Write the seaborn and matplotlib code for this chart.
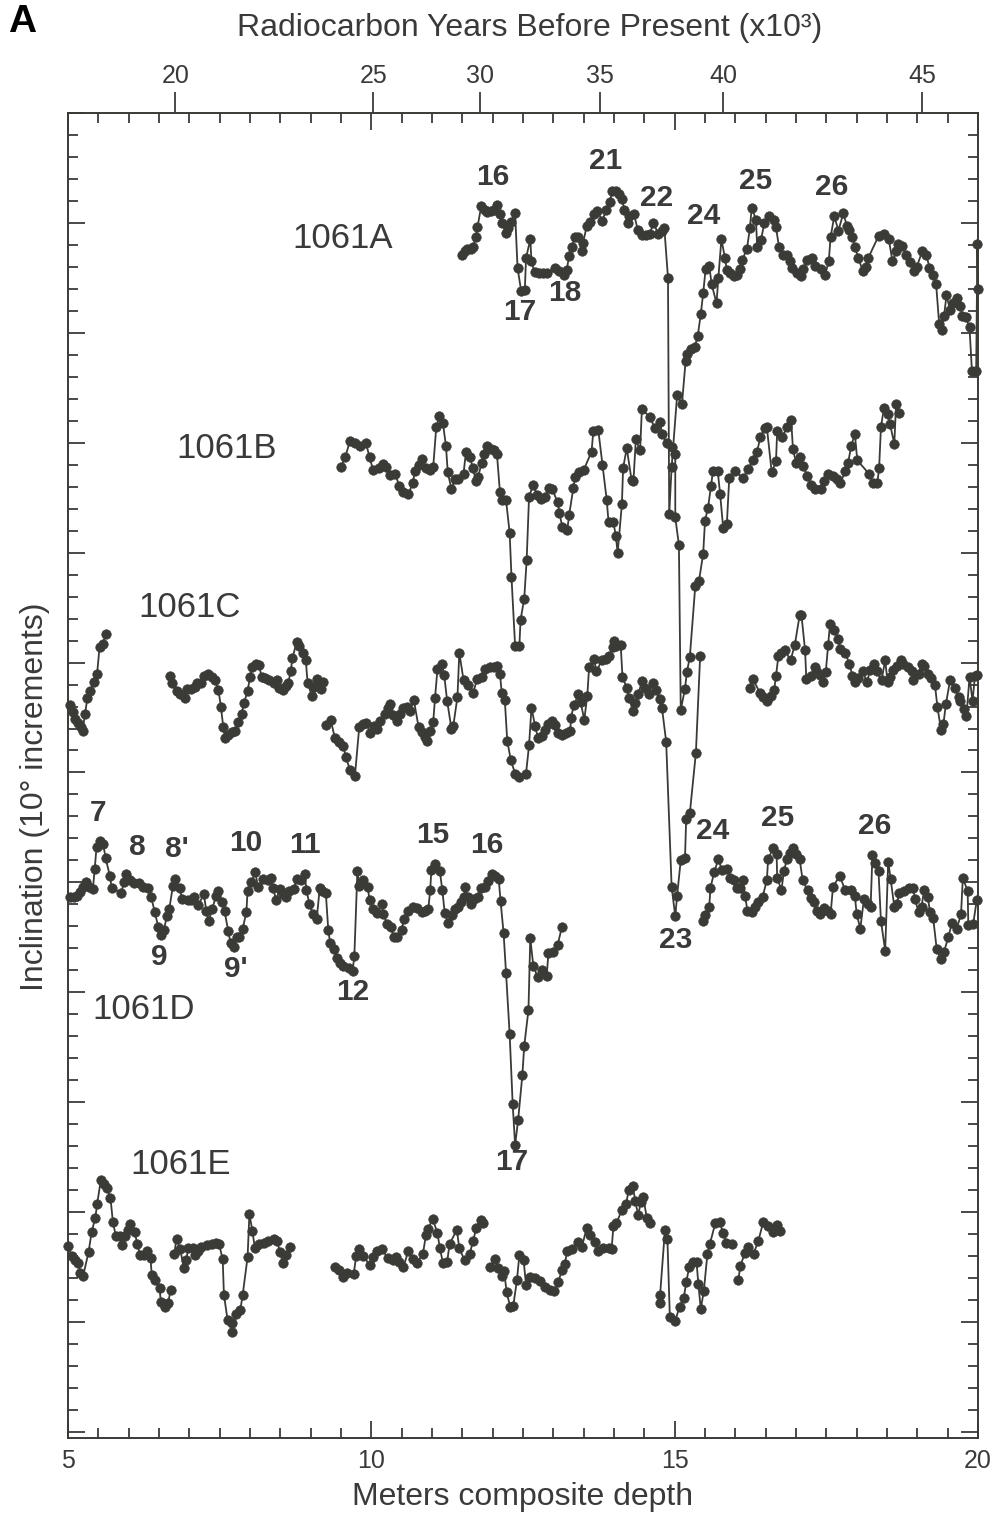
import numpy as np
import pandas as pd
import matplotlib
matplotlib.use("Agg")
import matplotlib.pyplot as plt
import seaborn as sns
from matplotlib.ticker import MultipleLocator, FixedLocator, NullLocator

sns.set_theme(style="white")
plt.rcParams["font.family"] = ["Liberation Sans", "DejaVu Sans"]

INK = "#3a3b36"
TXT = "#3a3a3a"
GAP = (None, None)

# ---------------- data (depth in mcd, inclination relative to each core's baseline, degrees) ----
core_A = [(11.49,-2.9),(11.54,-2.6),(11.58,-2.4),(11.64,-2.4),(11.68,-2.2),(11.72,-1.3),(11.75,-0.4),
          (11.81,1.5),(11.87,1.2),(11.91,1.0),(11.97,1.1),(12.03,1.2),(12.07,1.6),(12.12,0.8),(12.16,0.0),
          (12.22,-0.9),(12.26,-0.5),(12.31,0.1),(12.37,0.9),(12.41,-4.1),(12.47,-6.2),(12.53,-6.1),
          (12.55,-3.2),(12.62,-1.5),(12.64,-3.5),(12.69,-4.5),(12.76,-4.6),(12.83,-4.6),(12.89,-4.6),
          (13.02,-4.1),(13.10,-4.4),(13.18,-4.7),(13.22,-4.3),(13.26,-3.0),(13.31,-2.2),(13.35,-1.3),
          (13.41,-1.3),(13.47,-2.6),(13.49,-1.8),(13.55,-0.3),(13.61,0.1),(13.67,0.8),(13.72,1.1),
          (13.81,0.2),(13.87,1.2),(13.93,1.9),(13.97,2.9),(14.04,2.9),(14.08,2.6),(14.13,2.2),(14.17,1.2),
          (14.23,0.0),(14.25,0.6),(14.33,0.8),(14.39,-0.6),(14.46,-1.1),(14.53,-1.1),(14.59,-1.0),
          (14.65,0.0),(14.73,-1.0),(14.79,-0.7),(14.83,-0.5),(14.89,-5.0),(14.91,-26.5),(14.95,-22.2),
          (15.04,-15.7),(15.12,-16.5),(15.18,-12.6),(15.20,-11.9),(15.27,-11.5),(15.33,-11.3),(15.38,-10.3),
          (15.43,-8.3),(15.47,-6.4),(15.51,-4.2),(15.57,-3.9),(15.61,-5.6),(15.69,-7.3),(15.72,-5.0),
          (15.77,-1.5),(15.83,-3.2),(15.86,-4.3),(15.91,-4.6),(15.97,-4.8),(16.02,-4.7),(16.07,-4.2),
          (16.11,-3.4),(16.19,-2.4),(16.24,-0.5),(16.27,1.4),(16.34,0.3),(16.36,-2.2),(16.42,-1.6),
          (16.48,0.0),(16.56,0.6),(16.63,0.3),(16.67,-0.4),(16.72,-2.2),(16.78,-2.9),(16.85,-2.9),
          (16.90,-3.5),(16.94,-4.1),(17.01,-4.6),(17.08,-4.8),(17.12,-4.2),(17.18,-3.4),(17.27,-3.2),
          (17.32,-3.9),(17.41,-4.2),(17.48,-4.7),(17.54,-3.5),(17.57,-1.3),(17.63,0.6),(17.70,-0.7),
          (17.78,0.9),(17.84,-0.3),(17.87,-0.6),(17.93,-1.3),(17.97,-2.2),(18.03,-3.2),(18.10,-4.4),
          (18.15,-4.0),(18.19,-3.2),(18.36,-1.2),(18.45,-1.0),(18.53,-1.5),(18.59,-3.5),(18.65,-2.6),
          (18.68,-1.9),(18.75,-2.1),(18.82,-2.9),(18.88,-3.6),(18.94,-4.4),(18.99,-4.0),(19.08,-2.6),
          (19.15,-2.9),(19.20,-4.1),(19.25,-4.7),(19.31,-5.6),(19.36,-9.2),(19.40,-9.7),(19.44,-8.5),
          (19.48,-6.6),(19.54,-7.9),(19.59,-7.3),(19.65,-6.8),(19.71,-7.6),(19.74,-8.5),(19.80,-8.6),
          (19.86,-9.5),(19.90,-13.5),(19.97,-13.5),(19.99,-1.9),(20.00,-6.0)]

core_B = [(9.50,-2.2),(9.57,-1.3),(9.65,0.2),(9.73,0.0),(9.81,-0.3),(9.91,0.0),(9.97,-1.3),(10.03,-2.5),
          (10.12,-2.3),(10.19,-1.9),(10.25,-2.2),(10.31,-2.9),(10.39,-2.8),(10.46,-3.9),(10.52,-4.5),
          (10.61,-4.7),(10.68,-3.7),(10.72,-2.6),(10.79,-2.0),(10.83,-1.5),(10.90,-2.3),(10.97,-2.5),
          (11.02,-2.2),(11.07,1.4),(11.12,2.4),(11.18,1.8),(11.23,-0.3),(11.26,-2.7),(11.32,-4.2),
          (11.38,-3.3),(11.43,-3.3),(11.52,-2.8),(11.56,-0.8),(11.63,-1.3),(11.67,-2.3),(11.73,-3.5),
          (11.76,-3.1),(11.82,-1.8),(11.86,-1.0),(11.90,-0.3),(11.97,-0.6),(12.02,-0.7),(12.07,-1.0),
          (12.12,-4.5),(12.15,-5.2),(12.22,-5.2),(12.28,-8.2),(12.31,-12.2),(12.37,-18.5),(12.44,-18.5),
          (12.46,-16.1),(12.52,-14.2),(12.56,-10.7),(12.60,-4.9),(12.67,-3.8),(12.73,-4.8),(12.79,-5.1),
          (12.86,-4.9),(12.93,-4.1),(12.98,-4.2),(13.07,-5.4),(13.10,-6.4),(13.15,-7.7),(13.23,-7.9),
          (13.26,-6.6),(13.33,-4.1),(13.36,-3.1),(13.43,-2.7),(13.50,-2.5),(13.63,-0.8),(13.66,1.1),
          (13.74,1.2),(13.81,-2.0),(13.88,-5.2),(13.91,-7.2),(13.99,-7.2),(14.03,-8.5),(14.06,-10.0),
          (14.13,-5.6),(14.15,-2.3),(14.21,-0.5),(14.29,-3.4),(14.32,-3.5),(14.36,0.3),(14.43,-0.7),
          (14.46,3.1),(14.59,2.3),(14.68,1.3),(14.76,1.9),(14.79,0.8),(14.87,0.0),(14.95,-0.4),
          (15.01,-1.0),(15.01,-6.8),(15.07,-9.3),(15.10,-24.3),(15.17,-22.4),(15.20,-20.9),(15.25,-19.5),
          (15.34,-13.0),(15.40,-12.6),(15.47,-10.1),(15.50,-7.1),(15.55,-5.9),(15.60,-3.9),(15.63,-2.6),
          (15.71,-2.6),(15.75,-4.7),(15.80,-7.8),(15.86,-7.4),(15.90,-3.2),(16.00,-2.6),(16.13,-3.2),
          (16.21,-2.4),(16.29,-1.6),(16.36,-0.8),(16.41,0.5),(16.49,1.3),(16.52,1.4),(16.60,-2.7),
          (16.67,-1.7),(16.69,1.1),(16.77,0.5),(16.85,1.4),(16.92,2.1),(16.95,-0.6),(17.00,-1.8),
          (17.07,-1.3),(17.12,-2.1),(17.18,-3.0),(17.25,-3.8),(17.31,-4.2),(17.41,-4.2),(17.46,-3.5),
          (17.53,-2.8),(17.61,-3.0),(17.68,-3.3),(17.73,-3.7),(17.81,-2.6),(17.86,-1.8),(17.91,-0.3),
          (17.97,0.8),(18.01,-1.6),(18.20,-2.8),(18.27,-3.7),(18.34,-3.7),(18.37,-2.3),(18.40,1.4),
          (18.45,3.2),(18.52,2.6),(18.55,1.7),(18.62,-0.1),(18.65,3.5),(18.70,2.7)]

core_C = [(5.03,-3.9),(5.08,-4.5),(5.12,-5.1),(5.17,-5.5),(5.21,-5.9),(5.24,-6.2),(5.28,-4.7),(5.32,-3.2),
          (5.37,-2.6),(5.43,-1.8),(5.48,-1.0),(5.52,1.4),(5.57,1.7),(5.63,2.6),
          GAP,
          (6.68,-1.2),(6.71,-1.9),(6.79,-2.6),(6.85,-2.9),(6.93,-3.2),(6.96,-2.4),(7.02,-2.4),(7.09,-2.2),
          (7.13,-1.9),(7.20,-1.9),(7.24,-1.2),(7.31,-1.0),(7.37,-1.3),(7.42,-1.6),(7.48,-2.5),(7.52,-4.0),
          (7.56,-5.9),(7.59,-6.9),(7.64,-6.6),(7.70,-6.3),(7.75,-6.2),(7.81,-5.4),(7.86,-4.7),(7.90,-3.7),
          (7.96,-2.6),(8.00,-1.3),(8.04,-0.4),(8.10,-0.1),(8.15,-0.2),(8.19,-1.3),(8.25,-1.4),(8.32,-1.6),
          (8.39,-1.9),(8.45,-1.6),(8.48,-2.3),(8.54,-2.5),(8.59,-2.1),(8.63,-1.9),(8.67,-0.8),(8.70,0.4),
          (8.77,1.9),(8.81,1.5),(8.87,0.9),(8.92,0.2),(8.95,-1.9),(9.02,-3.0),(9.06,-2.2),(9.10,-1.5),
          (9.17,-2.4),(9.21,-1.8),
          GAP,
          (9.26,-5.7),(9.33,-5.2),(9.40,-6.9),(9.47,-7.2),(9.54,-7.6),(9.58,-8.6),(9.65,-9.8),(9.73,-10.3),
          (9.80,-5.9),(9.87,-5.6),(9.92,-5.5),(9.98,-6.4),(10.04,-5.8),(10.10,-6.0),(10.15,-5.3),(10.23,-4.7),
          (10.28,-4.1),(10.31,-3.8),(10.36,-4.8),(10.43,-5.3),(10.48,-4.7),(10.53,-4.1),(10.59,-4.0),
          (10.64,-4.4),(10.70,-3.4),(10.78,-5.9),(10.83,-6.3),(10.89,-6.8),(10.92,-7.1),(10.97,-6.2),
          (11.02,-5.4),(11.05,-3.2),(11.09,-0.6),(11.16,-0.1),(11.20,-1.1),(11.25,-3.5),(11.32,-6.0),
          (11.35,-5.8),(11.42,-3.1),(11.45,0.9),(11.52,-1.6),(11.60,-2.0),(11.68,-2.8),(11.74,-1.5),
          (11.82,-1.3),(11.87,-0.6),(11.96,-0.4),(12.02,-0.4),(12.07,-0.3),(12.12,-1.0),(12.15,-2.8),
          (12.20,-3.4),(12.24,-7.1),(12.30,-8.9),(12.37,-10.1),(12.44,-10.4),(12.55,-10.1),(12.60,-7.5),
          (12.64,-4.1),(12.70,-5.8),(12.75,-6.9),(12.81,-6.7),(12.86,-6.1),(12.92,-5.6),(12.97,-5.3),
          (13.03,-5.7),(13.08,-6.4),(13.14,-6.6),(13.21,-6.4),(13.28,-6.2),(13.29,-5.0),(13.34,-3.9),
          (13.41,-2.9),(13.45,-3.6),(13.51,-5.2),(13.56,-3.0),(13.59,-0.4),(13.67,0.3),(13.71,-0.8),
          (13.80,0.2),(13.87,0.3),(13.92,0.6),(13.98,1.4),(14.00,2.0),(14.04,1.5),(14.11,1.6),(14.14,-1.3),
          (14.21,-2.3),(14.25,-3.2),(14.31,-4.4),(14.35,-3.7),(14.40,-2.9),(14.46,-1.7),(14.51,-2.3),
          (14.57,-2.9),(14.64,-1.9),(14.69,-2.5),(14.75,-3.3),(14.79,-4.1),(14.86,-7.2),(14.95,-20.4),
          (15.01,-23.1),(15.04,-21.2),(15.10,-18.0),(15.17,-17.8),(15.19,-14.2),(15.25,-13.7),(15.35,-8.2),
          (15.42,0.6),
          GAP,
          (16.24,-2.3),(16.29,-1.5),(16.41,-2.8),(16.46,-3.1),(16.52,-3.5),(16.58,-3.0),(16.64,-2.5),
          (16.67,-1.2),(16.71,0.6),(16.76,0.9),(16.82,1.1),(16.91,0.2),(16.98,1.6),(17.06,4.3),(17.09,4.3),
          (17.15,1.1),(17.17,-1.5),(17.24,-1.2),(17.31,-0.4),(17.35,-0.9),(17.40,-1.1),(17.45,-1.8),
          (17.49,-0.9),(17.53,1.6),(17.56,3.5),(17.63,3.0),(17.70,2.1),(17.73,1.2),(17.81,0.9),(17.88,-0.1),
          (17.93,-1.2),(17.97,-1.8),(18.03,-1.4),(18.10,-0.8),(18.17,-1.8),(18.22,-0.7),(18.28,-0.1),
          (18.33,-0.8),(18.41,-1.6),(18.47,0.2),(18.51,-1.8),(18.55,-1.3),(18.60,-0.7),(18.66,-0.3),
          (18.73,0.2),(18.77,-0.1),(18.84,-0.4),(18.91,-0.8),(18.93,-1.6),(19.02,-1.0),(19.07,-0.1),
          (19.11,-0.3),(19.17,-1.0),(19.22,-1.4),(19.29,-2.0),(19.33,-4.0),(19.39,-6.1),(19.43,-5.6),
          (19.47,-3.8),(19.54,-1.6),(19.62,-2.3),(19.68,-3.1),(19.71,-3.5),(19.77,-4.2),(19.81,-4.9),
          (19.86,-1.3),(19.91,-3.5),(19.95,-1.2),(19.99,-1.1)]

core_D = [(5.04,-1.3),(5.10,-1.3),(5.15,-1.2),(5.20,-0.9),(5.24,-0.4),(5.30,0.0),(5.35,-0.4),(5.41,-0.6),
          (5.44,1.2),(5.47,3.2),(5.52,3.8),(5.58,3.5),(5.62,2.2),(5.69,0.6),(5.72,-0.5),(5.88,-1.0),
          (5.92,0.0),(5.96,0.8),(6.03,0.2),(6.09,-0.1),(6.17,-0.1),(6.23,-0.4),(6.32,-0.5),(6.37,-1.3),
          (6.43,-2.7),(6.49,-4.1),(6.53,-4.8),(6.58,-4.3),(6.63,-3.1),(6.67,-2.4),(6.73,-0.3),(6.77,0.3),
          (6.84,-0.5),(6.88,-1.5),(6.97,-1.6),(7.03,-1.6),(7.08,-1.3),(7.14,-2.1),(7.24,-1.1),(7.28,-2.6),
          (7.32,-3.5),(7.38,-2.4),(7.44,-1.2),(7.48,-0.8),(7.54,-1.8),(7.58,-2.6),(7.64,-4.4),(7.68,-5.5),
          (7.74,-5.9),(7.78,-5.0),(7.82,-5.0),(7.88,-4.2),(7.94,-2.7),(7.96,-0.8),(8.02,0.0),(8.09,0.9),
          (8.13,-0.4),(8.21,0.3),(8.30,0.2),(8.34,0.4),(8.38,-0.5),(8.43,-1.6),(8.49,-0.6),(8.55,-1.1),
          (8.59,-1.3),(8.64,-0.8),(8.72,-0.6),(8.77,0.3),(8.84,0.2),(8.90,0.8),(8.93,-0.7),(8.98,-2.0),
          (9.04,-2.9),(9.10,-3.3),(9.15,-0.5),(9.19,-0.8),(9.25,-1.0),(9.29,-4.3),(9.32,-5.5),(9.38,-6.1),
          (9.43,-6.9),(9.49,-7.3),(9.54,-7.6),(9.63,-7.8),(9.69,-8.1),(9.72,-6.7),(9.77,1.0),(9.80,-0.3),
          (9.87,0.2),(9.94,-0.4),(9.97,-1.6),(10.03,-2.4),(10.09,-2.8),(10.17,-2.0),(10.20,-2.9),
          (10.26,-3.8),(10.33,-4.1),(10.37,-5.0),(10.43,-5.0),(10.50,-4.3),(10.54,-3.3),(10.61,-2.6),
          (10.69,-2.2),(10.76,-2.3),(10.83,-2.7),(10.89,-2.6),(10.94,-2.4),(10.97,-0.7),(10.99,1.1),
          (11.05,1.7),(11.13,1.0),(11.17,-0.7),(11.21,-2.8),(11.27,-3.7),(11.33,-3.0),(11.38,-2.4),
          (11.43,-2.2),(11.47,-1.8),(11.53,-1.3),(11.55,-0.4),(11.59,-1.3),(11.65,-2.0),(11.70,-1.5),
          (11.76,-1.3),(11.80,-0.5),(11.87,-0.4),(11.93,0.1),(11.99,0.8),(12.04,0.6),(12.10,0.3),
          (12.13,-1.7),(12.18,-4.6),(12.22,-8.2),(12.28,-13.8),(12.33,-20.2),(12.37,-23.9),(12.42,-21.6),
          (12.49,-17.5),(12.52,-14.9),(12.59,-11.6),(12.62,-5.1),(12.67,-7.6),(12.74,-8.6),(12.81,-8.0),
          (12.89,-8.5),(12.92,-6.4),(13.00,-6.3),(13.07,-5.7),(13.14,-4.1),
          GAP,
          (15.47,-3.5),(15.50,-3.0),(15.57,-2.2),(15.59,-0.5),(15.65,0.9),(15.72,2.1),(15.78,1.1),
          (15.87,1.2),(15.91,0.4),(15.97,0.2),(16.02,-0.5),(16.07,-0.5),(16.12,0.2),(16.16,-1.2),
          (16.20,-2.6),(16.27,-2.7),(16.32,-2.2),(16.38,-1.8),(16.45,-1.3),(16.52,0.2),(16.54,2.1),
          (16.62,3.1),(16.68,2.6),(16.69,0.4),(16.76,-0.7),(16.80,1.0),(16.85,2.1),(16.90,2.7),(16.95,3.1),
          (17.00,2.6),(17.06,2.1),(17.11,0.2),(17.19,-0.7),(17.24,-1.4),(17.30,-1.8),(17.34,-2.6),
          (17.40,-2.9),(17.46,-2.3),(17.52,-2.6),(17.57,-2.9),(17.61,-0.4),(17.72,0.6),(17.81,-0.7),
          (17.90,-0.7),(17.97,-1.2),(18.00,-2.9),(18.06,-4.2),(18.12,-1.5),(18.18,-2.0),(18.23,-2.2),
          (18.26,2.5),(18.30,1.8),(18.36,1.0),(18.40,-3.5),(18.47,-6.2),(18.52,1.9),(18.56,0.3),
          (18.62,-2.2),(18.66,-2.0),(18.70,-1.0),(18.78,-0.8),(18.87,-0.5),(18.93,-0.5),(18.96,-1.5),
          (19.02,-2.7),(19.07,-2.2),(19.11,-0.7),(19.17,-1.3),(19.21,-2.7),(19.26,-3.2),(19.32,-6.1),
          (19.39,-7.0),(19.44,-6.3),(19.51,-5.0),(19.57,-3.7),(19.65,-4.2),(19.72,-2.9),(19.75,0.4),
          (19.83,-0.8),(19.84,-3.9),(19.92,-3.8),(19.98,-1.6)]

core_E = [(5.00,-3.1),(5.06,-4.0),(5.12,-4.4),(5.17,-4.6),(5.20,-5.5),(5.25,-5.8),(5.34,-3.6),(5.39,-1.8),
          (5.45,-0.5),(5.48,0.7),(5.54,2.9),(5.59,2.6),(5.64,2.2),(5.70,1.3),(5.74,-0.9),(5.79,-2.2),
          (5.86,-2.2),(5.89,-3.0),(5.94,-2.2),(5.99,-1.6),(6.03,-1.1),(6.10,-1.8),(6.14,-2.9),(6.19,-3.9),
          (6.25,-3.9),(6.31,-3.5),(6.36,-4.2),(6.38,-5.7),(6.43,-6.2),(6.51,-6.9),(6.53,-8.2),(6.60,-8.6),
          (6.65,-8.3),(6.69,-7.1),
          GAP,
          (6.75,-3.8),(6.79,-2.4),(6.85,-3.4),(6.91,-5.1),(6.95,-4.4),(6.98,-3.3),(7.06,-3.3),(7.09,-3.9),
          (7.15,-3.5),(7.20,-3.2),(7.29,-3.0),(7.37,-2.9),(7.44,-2.8),(7.49,-2.9),(7.55,-4.3),(7.57,-7.5),
          (7.63,-9.8),(7.70,-10.1),(7.71,-10.9),(7.77,-9.3),(7.84,-8.9),(7.88,-7.5),(7.96,-4.1),(7.99,-0.2),
          (8.04,-1.7),(8.08,-3.3),(8.15,-2.9),(8.23,-2.8),(8.30,-2.6),(8.39,-2.4),(8.45,-2.6),(8.49,-3.6),
          (8.54,-4.6),(8.59,-3.9),(8.66,-3.2),
          GAP,
          (9.40,-5.0),(9.46,-5.3),(9.54,-5.9),(9.60,-5.5),(9.71,-5.6),(9.75,-4.0),(9.80,-3.4),(9.87,-4.0),
          (9.97,-4.8),(10.02,-4.1),(10.09,-3.5),(10.17,-3.4),(10.28,-4.2),(10.35,-4.4),(10.41,-4.1),
          (10.46,-4.5),(10.53,-5.0),(10.61,-3.5),(10.69,-4.3),(10.76,-4.6),(10.85,-3.8),(10.90,-2.1),
          (10.94,-1.5),(11.01,-0.6),(11.09,-1.9),(11.13,-3.3),(11.18,-4.6),(11.25,-4.5),(11.29,-2.9),
          (11.41,-1.6),(11.45,-3.3),(11.54,-4.4),(11.62,-3.8),(11.68,-2.6),(11.73,-1.4),(11.80,-0.7),
          (11.84,-1.0),
          GAP,
          (11.95,-5.0),(12.04,-4.3),(12.09,-5.1),(12.15,-5.8),(12.19,-5.4),(12.23,-7.3),(12.29,-8.6),
          (12.34,-8.5),(12.40,-6.2),(12.44,-3.9),(12.51,-4.4),(12.55,-6.6),(12.62,-5.9),(12.70,-6.0),
          (12.78,-6.3),(12.86,-6.8),(12.95,-7.1),(13.01,-7.2),(13.08,-6.4),(13.14,-5.3),(13.19,-4.7),
          (13.23,-3.5),(13.30,-3.4),(13.40,-2.7),(13.47,-3.2),(13.55,-1.4),(13.60,-2.1),(13.69,-2.7),
          (13.74,-3.5),(13.82,-3.3),(13.91,-3.3),(13.96,-3.4),(13.99,-1.3),(14.04,-1.0),(14.13,0.2),
          (14.20,0.7),(14.24,2.0),(14.31,2.4),(14.35,1.0),(14.40,-0.3),(14.44,0.9),(14.48,1.4),(14.54,-0.5),
          (14.60,-1.0),
          GAP,
          (14.75,-8.3),(14.76,-7.5),(14.84,-1.6),(14.88,-2.4),(14.92,-9.5),(15.01,-9.9),(15.08,-8.6),
          (15.15,-7.8),(15.19,-6.4),(15.24,-5.0),(15.31,-4.5),(15.36,-4.5),(15.39,-6.5),(15.43,-8.8),
          (15.48,-7.2),(15.54,-3.8),(15.58,-2.9),(15.67,-1.0),(15.74,-0.9),(15.80,-1.9),(15.85,-2.8),
          (15.94,-2.9),
          GAP,
          (16.05,-6.2),(16.08,-4.9),(16.16,-3.7),(16.21,-3.2),(16.30,-3.8),(16.38,-2.6),(16.46,-0.9),
          (16.54,-1.3),(16.62,-1.8),(16.69,-1.2),(16.74,-1.7)]

core_names = ["1061A", "1061B", "1061C", "1061D", "1061E"]
core_offsets = [100, 80, 60, 40, 10]           # baseline (degrees) of each stacked record
core_points = [core_A, core_B, core_C, core_D, core_E]

core_label_text = ["1061A", "1061B", "1061C", "1061D", "1061E"]
core_label_pos = [(9.52, 98.6), (7.62, 79.5), (7.01, 65.0), (6.24, 28.4), (6.86, 14.3)]

event_labels = ["16", "21", "22", "17", "18", "24", "25", "26",
                "7", "8", "8'", "10", "11", "15", "16", "9", "9'", "12", "17", "23", "24", "25", "26"]
event_pos = [(12.00, 104.2), (13.87, 105.6), (14.71, 102.3), (12.45, 91.9), (13.18, 93.6),
             (15.47, 100.6), (16.33, 103.8), (17.59, 103.3),
             (5.49, 46.3), (6.14, 43.2), (6.80, 43.0), (7.93, 43.6), (8.91, 43.4), (11.02, 44.3),
             (11.91, 43.4), (6.51, 33.2), (7.76, 32.1), (9.70, 30.0), (12.31, 14.6), (15.01, 34.8),
             (15.62, 44.7), (16.70, 45.9), (18.29, 45.1)]

age_ticks = [20, 25, 30, 35, 40, 45]            # radiocarbon kyr BP
age_tick_depth = [6.77, 10.03, 11.79, 13.77, 15.80, 19.08]

# ---------------- build long table ----------------
rows = []
for name, off, pts in zip(core_names, core_offsets, core_points):
    seg = 0
    for d, inc in pts:
        if d is None:
            seg += 1
            continue
        rows.append({"core": name, "unit": f"{name}_{seg}", "depth": d, "value": off + inc})
df = pd.DataFrame(rows)

# ---------------- figure ----------------
fig = plt.figure(figsize=(9.94, 15.18), dpi=100)
ax = fig.add_axes([68 / 994, 1 - 1438 / 1518, (978 - 68) / 994, (1438 - 113) / 1518])

sns.lineplot(data=df, x="depth", y="value", units="unit", estimator=None, sort=False,
             color=INK, linewidth=1.3, marker="o", markersize=7.0,
             markeredgecolor=INK, markeredgewidth=0.3, legend=False, ax=ax, clip_on=False)

ax.set_xlim(5, 20)
ax.set_ylim(-10.55, 110)

ax2 = ax.twiny()
ax2.set_xlim(5, 20)
ax2.xaxis.set_major_locator(FixedLocator(age_tick_depth))
ax2.set_xticklabels([str(a) for a in age_ticks])
ax2.xaxis.set_minor_locator(NullLocator())
ax2.tick_params(axis="x", direction="out", length=15, width=1.3, labelsize=18, pad=3,
                colors=TXT)
for s in ax2.spines.values():
    s.set_visible(False)

ax.xaxis.set_major_locator(FixedLocator([5, 10, 15, 20]))
ax.xaxis.set_minor_locator(MultipleLocator(0.5))
ax.yaxis.set_major_locator(MultipleLocator(10))
ax.yaxis.set_minor_locator(MultipleLocator(2))
ax.tick_params(which="both", direction="in", top=True, bottom=True, left=True, right=True,
               labelleft=False, labeltop=False, colors=TXT, width=1.3)
ax.tick_params(which="major", length=12)
ax.tick_params(which="minor", length=7)
ax.tick_params(axis="x", labelsize=18, pad=8)
for s in ax.spines.values():
    s.set_color(INK)
    s.set_linewidth(1.4)
ax.grid(False)

ax.set_xlabel("Meters composite depth", fontsize=23, color=TXT)
ax.xaxis.set_label_coords(0.5, -0.0445)
ax.xaxis.label.set_va("center")
ax.set_ylabel("Inclination (10\u00b0 increments)", fontsize=23, color=TXT)
ax.yaxis.set_label_coords(-0.0363, 0.484)
ax.yaxis.label.set_va("center")
ax2.set_xlabel("Radiocarbon Years Before Present (x10\u00b3)", fontsize=23, color=TXT)
ax2.xaxis.set_label_coords(0.5077, 1.0642)
ax2.xaxis.label.set_va("center")

for txt, (x, y) in zip(core_label_text, core_label_pos):
    ax.text(x, y, txt, fontsize=25, color=TXT, ha="center", va="center")
for txt, (x, y) in zip(event_labels, event_pos):
    ax.text(x, y, txt, fontsize=21.5, fontweight="bold", color=TXT, ha="center", va="center")

fig.text(22 / 994, 1 - 22 / 1518, "A", fontsize=28, fontweight="bold", color="black",
         ha="center", va="center")

fig.savefig("out.png", dpi=100)
